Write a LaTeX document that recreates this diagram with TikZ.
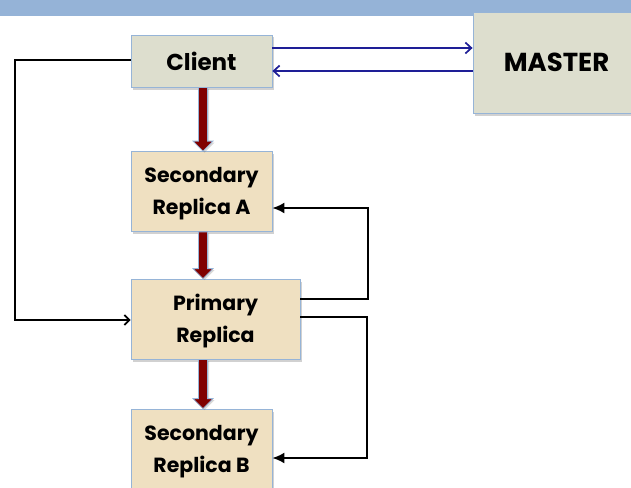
\documentclass[tikz,border=0pt]{standalone}
\usepackage{fontspec}
\setmainfont{Poppins}
\usetikzlibrary{arrows.meta,shadows,calc}
\definecolor{band}{RGB}{149,179,215}
\definecolor{edge}{RGB}{150,180,215}
\definecolor{greyfill}{RGB}{221,222,206}
\definecolor{tanfill}{RGB}{239,224,193}
\definecolor{darkred}{RGB}{128,0,0}
\definecolor{navy}{RGB}{30,30,150}
\newcommand\dnarrowdraw[2]{%
  \filldraw[redarr] ($(#1)+(-4.5,0)$) -- ($(#2)+(-4.5,-10)$) -- ($(#2)+(-10,-10)$) -- (#2)
    -- ($(#2)+(10,-10)$) -- ($(#2)+(4.5,-10)$) -- ($(#1)+(4.5,0)$) -- cycle;}
\begin{document}
\begin{tikzpicture}[x=1pt,y=-1pt,
  boxbase/.style={draw=edge, line width=0.8pt, inner sep=0pt, align=center,
    font=\fontsize{20.5}{32}\selectfont\bfseries,
    drop shadow={shadow xshift=2pt, shadow yshift=-2.5pt, opacity=0.3, fill=black!60}},
  greybox/.style={boxbase, fill=greyfill},
  tanbox/.style={boxbase, fill=tanfill},
  redarr/.style={fill=darkred, draw=edge, line width=0.8pt,
    drop shadow={shadow xshift=1.5pt, shadow yshift=-1.5pt, opacity=0.25, fill=black!60}},
  blk/.style={draw=black, line width=1.8pt},
  blu/.style={draw=navy, line width=1.7pt, -{Straight Barb[length=6pt,width=11pt,line width=1.7pt]}},
]
\useasboundingbox (0,0) rectangle (631,487);
\fill[band] (0,0) rectangle (631,16);

\node[greybox, minimum width=141pt, minimum height=52pt, font=\fontsize{23}{32}\selectfont\bfseries] (client) at (201.5,61) {Client};
\node[greybox, minimum width=170pt, minimum height=101pt, font=\fontsize{26}{32}\selectfont\bfseries] (master) at (558,62.5) {\hspace*{-3pt}MASTER};
\node[tanbox, minimum width=141pt, minimum height=80pt] (secA) at (201.5,191.5) {\rule{0pt}{20pt}Secondary\\Replica A};
\node[tanbox, minimum width=169pt, minimum height=80pt] (primary) at (215.5,319) {\rule{0pt}{20pt}Primary\\Replica};
\node[tanbox, minimum width=141pt, minimum height=80pt] (secB) at (201.5,449) {\rule{0pt}{20pt}Secondary\\Replica B};

% red flow arrows
\coordinate (r1a) at ([xshift=1.5pt]client.south);
\coordinate (r1b) at ([xshift=1.5pt]secA.north);
\coordinate (r2a) at ([xshift=1.5pt]secA.south);
\coordinate (r2b) at (r2a |- primary.north);
\coordinate (r3a) at (r2a |- primary.south);
\coordinate (r3b) at (r3a |- secB.north);
\dnarrowdraw{r1a}{r1b}
\dnarrowdraw{r2a}{r2b}
\dnarrowdraw{r3a}{r3b}

% client <-> master
\draw[blu] ([yshift=13pt]client.east) -- ([yshift=13pt]client.east -| master.west);
\draw[blu] ([yshift=-10pt]client.east -| master.west) -- ([yshift=-10pt]client.east);

% client -> primary
\coordinate (cl) at (15,0);
\draw[blk, -{Straight Barb[length=5pt,width=10pt,line width=1.8pt]}] ([yshift=1pt]client.west) -- ([yshift=1pt]client.west -| cl) |- ([yshift=-1pt]primary.west);

% primary -> secondary A
\coordinate (ra) at (368,0);
\draw[blk, -{Latex[length=12pt,width=11pt]}] ([yshift=20pt]primary.east) -- ([yshift=20pt]primary.east -| ra) |- ([yshift=-16.5pt]secA.east);

% primary -> secondary B
\coordinate (rb) at (367,0);
\draw[blk, -{Latex[length=12pt,width=11pt]}] ([yshift=2pt]primary.east) -- ([yshift=2pt]primary.east -| rb) |- ([yshift=-9pt]secB.east);
\end{tikzpicture}
\end{document}
